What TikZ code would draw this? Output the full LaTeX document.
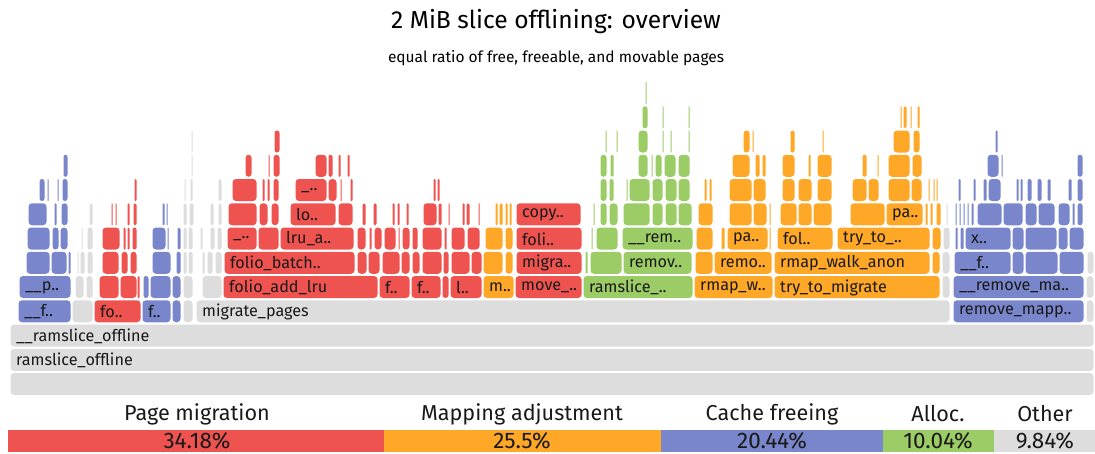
\documentclass[tikz,border=0pt]{standalone}
\usepackage{fontspec}
\setmainfont{Fira Sans}
\definecolor{fR}{HTML}{EF5350}
\definecolor{fO}{HTML}{FFA726}
\definecolor{fB}{HTML}{7986CB}
\definecolor{fG}{HTML}{9CCC65}
\definecolor{fY}{HTML}{DDDDDD}
\tikzset{
  lab/.style={anchor=west,inner sep=0pt,font=\fontsize{16.2}{16}\selectfont,text=black!90},
  legtxt/.style={inner sep=0pt,font=\fontsize{21.6}{22}\selectfont,text=black!90},
  pcttxt/.style={inner sep=0pt,font=\fontsize{22.5}{22}\selectfont,text=black!90},
}
% one frame of the flame graph: row, left x, right x, colour, label
\newcommand\fg[5]{%
  \pgfmathsetmacro\fgr{min(3.5,(#3-#2-1)/2)}%
  \fill[#4,rounded corners=\fgr pt] (#2+0.5,{373-24.25*#1}) rectangle (#3-0.5,{395-24.25*#1});
  \if\relax\detokenize{#5}\relax\else
    \node[lab,name=f#1-#2] at (#2+6,{384.5-24.25*#1}) {#5};
  \fi}
\begin{document}
\begin{tikzpicture}[x=1pt,y=-1pt]
\useasboundingbox (0,0) rectangle (1095,453);
\node[name=title,font=\fontsize{24.6}{25}\selectfont] at (556,22) {2 MiB slice offlining: overview};
\node[name=subtitle,font=\fontsize{15.5}{16}\selectfont] at (556,58) {equal ratio of free, freeable, and movable pages};

% base stack
\fg{0}{10}{1094}{fY}{}
\fg{1}{10}{1094}{fY}{ramslice\_offline}
\fg{2}{10}{1094}{fY}{\_\_ramslice\_offline}

% row 3
\fg{3}{18}{71}{fB}{\_\_f..}
\fg{3}{94}{141}{fR}{fo..}
\fg{3}{142}{171}{fB}{f..}
\fg{3}{196}{950}{fY}{migrate\_pages}
\fg{3}{953}{1084}{fB}{remove\_mapp..}
\foreach \a/\b/\c in {72/93/fY,172/181/fB,183/193/fY,1086/1094/fY} {\fg{3}{\a}{\b}{\c}{}}

% row 4
\fg{4}{19}{71}{fB}{\_\_p..}
\fg{4}{223}{378}{fR}{folio\_add\_lru}
\fg{4}{379}{410}{fR}{f..}
\fg{4}{411}{441}{fR}{f..}
\fg{4}{450}{482}{fR}{l..}
\fg{4}{483}{514}{fO}{m..}
\fg{4}{515}{582}{fR}{move\_..}
\fg{4}{583}{693}{fG}{ramslice\_..}
\fg{4}{694}{773}{fO}{rmap\_w..}
\fg{4}{774}{940}{fO}{try\_to\_migrate}
\fg{4}{953}{1084}{fB}{\_\_remove\_ma..}
\foreach \a/\b/\c in {75/84/fY,86/93/fY,99/119/fR,120/137/fR,137/140/fR,143/149/fB,150/171/fB,172/181/fB,
  183/193/fY,202/222/fY,442/449/fR,942/950/fY,1086/1094/fY} {\fg{4}{\a}{\b}{\c}{}}

% row 5
\fg{5}{224}{355}{fR}{folio\_batch..}
\fg{5}{516}{582}{fR}{migra..}
\fg{5}{623}{692}{fG}{remov..}
\fg{5}{714}{772}{fO}{remo..}
\fg{5}{774}{930}{fO}{rmap\_walk\_anon}
\fg{5}{954}{1011}{fB}{\_\_f..}
\foreach \a/\b/\c in {26/50/fB,51/67/fB,68/71/fB,77/79/fY,80/85/fY,87/93/fY,102/119/fR,121/128/fR,130/137/fR,
  152/171/fB,176/181/fB,183/187/fY,188/193/fY,202/205/fY,207/213/fY,215/222/fY,357/367/fR,368/380/fR,
  382/400/fR,401/410/fR,412/420/fR,422/442/fR,443/449/fR,451/470/fR,471/482/fR,483/503/fO,505/513/fO,
  585/588/fG,590/622/fG,695/713/fO,932/940/fO,942/950/fY,1012/1024/fB,1025/1058/fB,1059/1084/fB,1087/1094/fY}
  {\fg{5}{\a}{\b}{\c}{}}

% row 6
\fg{6}{227}{257}{fR}{\_..}
\fg{6}{280}{354}{fR}{lru\_a..}
\fg{6}{516}{582}{fR}{foli..}
\fg{6}{622}{693}{fG}{\_\_rem..}
\fg{6}{727}{768}{fO}{pa..}
\fg{6}{777}{833}{fO}{fol..}
\fg{6}{837}{930}{fO}{try\_to\_..}
\fg{6}{965}{1011}{fB}{x..}
\foreach \a/\b/\c in {27/50/fB,52/59/fB,60/68/fB,81/83/fY,87/93/fY,102/120/fR,123/126/fR,127/130/fR,132/137/fR,
  152/166/fB,167/169/fB,177/181/fB,183/187/fY,188/193/fY,200/203/fY,210/215/fY,217/222/fY,258/279/fR,
  357/366/fR,369/372/fR,374/382/fR,384/396/fR,398/400/fR,402/410/fR,412/418/fR,422/442/fR,444/447/fR,
  451/465/fR,467/480/fR,485/503/fO,505/513/fO,591/593/fG,596/618/fG,696/713/fO,721/725/fO,769/771/fO,
  932/941/fO,943/950/fY,955/958/fB,960/964/fB,1012/1024/fB,1025/1057/fB,1058/1068/fB,1069/1084/fB}
  {\fg{6}{\a}{\b}{\c}{}}

% row 7
\fg{7}{290}{336}{fR}{lo..}
\fg{7}{516}{581}{fR}{copy..}
\fg{7}{886}{923}{fO}{pa..}
\foreach \a/\b/\c in {28/47/fB,54/57/fB,61/68/fB,89/93/fY,111/113/fR,115/117/fR,127/130/fR,133/137/fR,
  162/165/fB,166/168/fB,183/187/fY,189/194/fY,210/214/fY,218/222/fY,228/257/fR,259/268/fR,271/279/fR,
  338/353/fR,362/366/fR,373/377/fR,392/395/fR,397/400/fR,406/409/fR,423/437/fR,438/442/fR,448/450/fR,
  462/465/fR,466/470/fR,478/480/fR,495/498/fO,499/503/fO,505/508/fO,509/512/fO,593/595/fG,600/607/fG,
  609/618/fG,623/650/fG,652/663/fG,665/677/fG,678/692/fG,698/713/fO,729/752/fO,753/767/fO,769/771/fO,
  780/797/fO,798/812/fO,813/832/fO,850/885/fO,925/928/fO,930/933/fO,936/941/fO,946/948/fY,
  955/957/fB,959/961/fB,963/965/fB,967/969/fB,971/974/fB,977/1002/fB,1003/1023/fB,1025/1037/fB,
  1038/1055/fB,1058/1070/fB,1072/1075/fB,1077/1083/fB}
  {\fg{7}{\a}{\b}{\c}{}}

% row 8
\fg{8}{295}{327}{fR}{\_..}
\foreach \a/\b/\c in {39/45/fB,47/49/fB,57/59/fB,62/68/fB,134/137/fR,184/186/fY,190/193/fY,218/222/fY,
  232/257/fR,262/265/fR,267/270/fR,273/279/fR,328/337/fR,340/342/fR,350/353/fR,433/436/fR,437/440/fR,
  600/607/fG,609/614/fG,626/628/fG,629/650/fG,652/663/fG,665/677/fG,678/690/fG,704/707/fO,709/712/fO,
  729/752/fO,753/766/fO,782/795/fO,798/812/fO,817/832/fO,852/867/fO,868/879/fO,888/910/fO,911/922/fO,
  928/930/fO,933/935/fO,936/938/fO,958/961/fB,973/976/fB,983/987/fB,988/1001/fB,1016/1019/fB,
  1020/1023/fB,1027/1032/fB,1037/1042/fB,1047/1051/fB,1068/1072/fB,1077/1083/fB}
  {\fg{8}{\a}{\b}{\c}{}}

% row 9
\foreach \a/\b/\c in {63/68/fB,191/193/fY,245/252/fR,268/270/fR,273/280/fR,315/327/fR,328/333/fR,338/341/fR,
  347/350/fR,600/607/fG,610/614/fG,638/648/fG,651/653/fG,655/662/fG,664/676/fG,678/690/fG,732/750/fO,
  755/760/fO,762/766/fO,782/795/fO,808/811/fO,817/832/fO,862/867/fO,877/879/fO,888/910/fO,912/922/fO,
  987/999/fB,1001/1003/fB,1077/1083/fB}
  {\fg{9}{\a}{\b}{\c}{}}

% row 10
\foreach \a/\b/\c in {191/193/fY,274/280/fR,605/607/fG,616/618/fG,638/648/fG,662/664/fG,670/672/fG,688/690/fG,
  743/750/fO,752/754/fO,790/795/fO,822/824/fO,893/910/fO,913/920/fO,995/998/fB}
  {\fg{10}{\a}{\b}{\c}{}}

% rows 11 and 12
\foreach \a/\b/\c in {642/648/fG,662/664/fG,688/690/fG,900/902/fO,903/907/fO,910/912/fO,917/920/fO}
  {\fg{11}{\a}{\b}{\c}{}}
\fg{12}{645}{647}{fG}{}

% legend
\fill[fR] (8,430) rectangle (384,452);
\fill[fO] (384,430) rectangle (661,452);
\fill[fB] (661,430) rectangle (883,452);
\fill[fG] (883,430) rectangle (994,452);
\fill[fY] (994,430) rectangle (1095,452);
\node[legtxt,name=lgA] at (197,414) {Page migration};
\node[legtxt,name=lgB] at (522,414) {Mapping adjustment};
\node[legtxt,name=lgC] at (772,414) {Cache freeing};
\node[legtxt,name=lgD] at (938,414) {Alloc.};
\node[legtxt,name=lgE] at (1045,414) {Other};
\node[pcttxt,name=pcA] at (197,441) {34.18\%};
\node[pcttxt,name=pcB] at (522,441) {25.5\%};
\node[pcttxt,name=pcC] at (772,441) {20.44\%};
\node[pcttxt,name=pcD] at (938,441) {10.04\%};
\node[pcttxt,name=pcE] at (1045,441) {9.84\%};
\end{tikzpicture}
\end{document}
